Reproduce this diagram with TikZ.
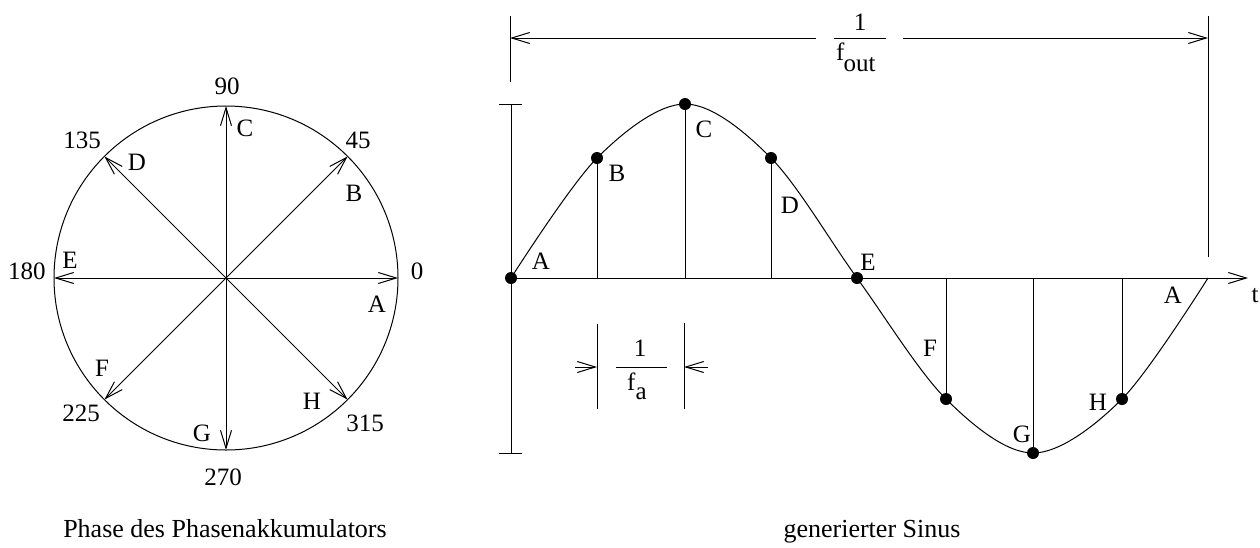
\documentclass[tikz,border=0pt]{standalone}
\usepackage{fontspec}
\setmainfont{Liberation Serif}
\usetikzlibrary{arrows.meta,calc}
\begin{document}
\begin{tikzpicture}[x=1pt,y=-1pt,
  every node/.style={font=\fontsize{25}{29}\selectfont, inner sep=0pt},
  ln/.style={line width=1pt},
  arr/.style={line width=1pt, -{Straight Barb[length=18pt,width=11pt,line width=1pt]}},
  dot/.style={circle, fill=black, minimum size=12pt, inner sep=0pt},
  lbl/.style={anchor=center},
  capt/.style={anchor=base, font=\fontsize{26}{30}\selectfont}]
\useasboundingbox (0,0) rectangle (1260,547);

% ---------------- phase circle ----------------
\coordinate (O) at (226,278);
\draw[ln] (O) circle[radius=172];
\foreach \a in {0,45,90,135,180,225,270,315}{
  \coordinate (p\a) at ($(O)+(\a:172)$);
  \draw[arr] (O) -- (p\a);
}
\node[lbl] (n90)  at (227,86)  {90};
\node[lbl] (n45)  at (358,140) {45};
\node[lbl] (n135) at (82,140)  {135};
\node[lbl] (n180) at (27,271)  {180};
\node[lbl] (n0)   at (417,271) {0};
\node[lbl] (n225) at (81,413)  {225};
\node[lbl] (n270) at (223,477) {270};
\node[lbl] (n315) at (365,423) {315};
\node[lbl] (cA) at (377,304) {A};
\node[lbl] (cB) at (354,193) {B};
\node[lbl] (cC) at (245,128) {C};
\node[lbl] (cD) at (137,162) {D};
\node[lbl] (cE) at (70,260)  {E};
\node[lbl] (cF) at (102,368) {F};
\node[lbl] (cG) at (202,433) {G};
\node[lbl] (cH) at (312,401) {H};

% ---------------- sine ----------------
\coordinate (A0) at (511,278);
\coordinate (tEnd) at (1248,278);
\coordinate (yTop) at (511,104);
\coordinate (yBot) at (511,453);
\draw[ln] (yTop) -- (yBot);
\draw[ln] ($(yTop)+(-12,0)$) -- ($(yTop)+(11,0)$);
\draw[ln] ($(yBot)+(-12,0)$) -- ($(yBot)+(11,0)$);
\draw[arr] (A0) -- (tEnd);
\node[lbl] (tl) at (1255,296) {t};

\draw[ln] plot[smooth, tension=0.55] coordinates {(511,278) (597,158) (685,104) (771,158) (857,278) (946,399) (1033,453) (1122,399) (1208,278)};

\node[dot] (dA) at (511,278) {};
\node[dot] (dB) at (597,158) {};
\node[dot] (dC) at (685,104) {};
\node[dot] (dD) at (771,158) {};
\node[dot] (dE) at (857,278) {};
\node[dot] (dF) at (946,399) {};
\node[dot] (dG) at (1033,453) {};
\node[dot] (dH) at (1122,399) {};
\foreach \p in {dB,dC,dD,dF,dG,dH}{ \draw[ln] (\p.center) -- (\p.center |- A0); }

\node[lbl] (sA) at (541,261) {A};
\node[lbl] (sB) at (617,173) {B};
\node[lbl] (sC) at (704,129) {C};
\node[lbl] (sD) at (790,205) {D};
\node[lbl] (sE) at (868,262) {E};
\node[lbl] (sF) at (930,348) {F};
\node[lbl] (sG) at (1022,434) {G};
\node[lbl] (sH) at (1098,402) {H};
\node[lbl] (sA2) at (1173,295) {A};

% ---------------- 1/f_out ----------------
\coordinate (oL1) at (510,16);  \coordinate (oL2) at (510,82);
\coordinate (oR1) at (1208,16); \coordinate (oR2) at (1208,257);
\draw[ln] (oL1) -- (oL2);
\draw[ln] (oR1) -- (oR2);
\coordinate (gL) at (816,38); \coordinate (gR) at (903,38);
\draw[arr] (gL) -- (oL1 |- gL);
\draw[arr] (gR) -- (oR1 |- gR);
\node[lbl] (one1) at (860,22) {1};
\draw[ln] (834,38) -- (886,38);
\node[anchor=base west] (fout) at (836,60) {f\kern-1pt\raisebox{-11pt}{out}};

% ---------------- 1/f_a ----------------
\coordinate (aL1) at (597,324); \coordinate (aL2) at (597,409);
\coordinate (aR1) at (684,323); \coordinate (aR2) at (684,409);
\draw[ln] (aL1) -- (aL2);
\draw[ln] (aR1) -- (aR2);
\coordinate (aLt) at (575,367); \coordinate (aRt) at (708,367);
\draw[arr] (aLt) -- (aL1 |- aLt);
\draw[arr] (aRt) -- (aR1 |- aRt);
\node[lbl] (one2) at (640,348) {1};
\draw[ln] (616,367) -- (667,367);
\node[anchor=base west] (fa) at (627,390) {f\raisebox{-9pt}{a}};

% ---------------- captions ----------------
\node[capt] (cap1) at (225,537) {Phase des Phasenakkumulators};
\node[capt] (cap2) at (872,537) {generierter Sinus};
\end{tikzpicture}
\end{document}
